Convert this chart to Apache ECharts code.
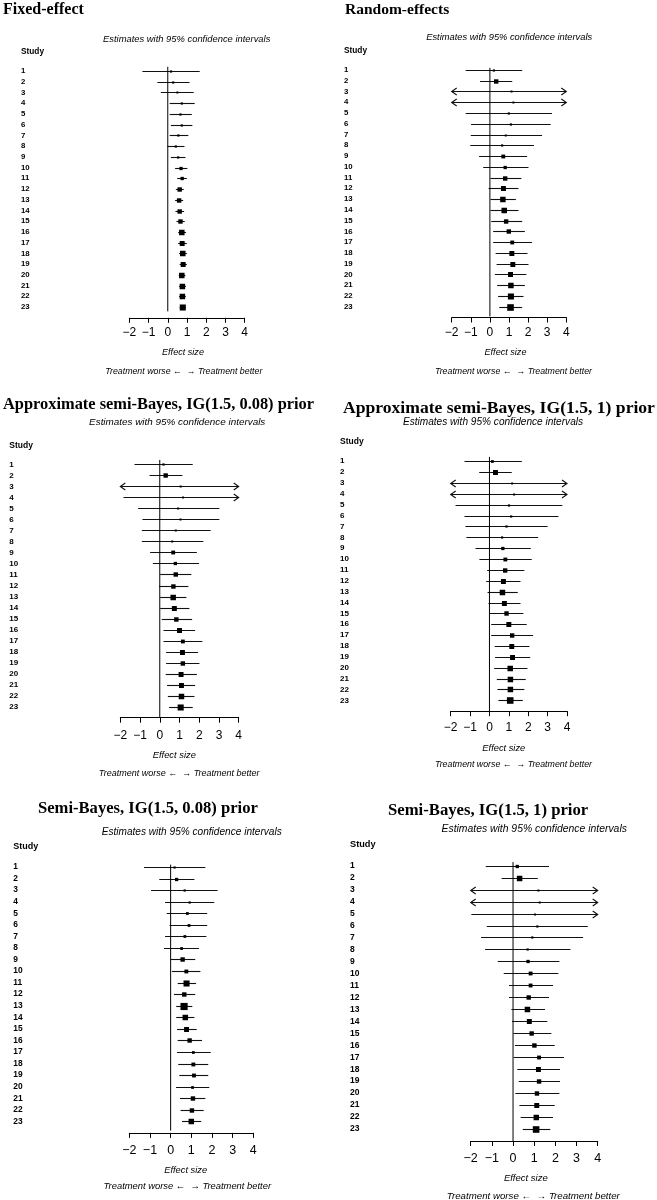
<!DOCTYPE html>
<html><head><meta charset="utf-8">
<script src="https://cdn.jsdelivr.net/npm/echarts@6/dist/echarts.min.js"></script>
<style>html,body{margin:0;padding:0;background:#fff}#c{width:657px;height:1200px}</style>
</head><body><div id="c"></div>
<script>
// ---------- data ----------
const studies = [1,2,3,4,5,6,7,8,9,10,11,12,13,14,15,16,17,18,19,20,21,22,23];
const xTicks = [-2,-1,0,1,2,3,4];
const OFF_LO = -2.5, OFF_HI = 4.5; // interval runs off the plotted scale (drawn as arrow)

const feEst = [0.17,0.28,0.50,0.73,0.66,0.73,0.55,0.42,0.54,0.69,0.75,0.62,0.59,0.62,0.66,0.73,0.75,0.78,0.80,0.73,0.76,0.76,0.78];
const feLo  = [-1.32,-0.54,-0.36,0.10,0.10,0.16,0.10,-0.02,0.16,0.38,0.49,0.42,0.38,0.40,0.45,0.54,0.54,0.59,0.62,0.57,0.59,0.59,0.62];
const feHi  = [1.66,1.13,1.35,1.40,1.25,1.28,1.07,0.87,0.92,1.02,0.99,0.83,0.80,0.85,0.88,0.95,0.99,0.99,0.99,0.92,0.94,0.94,0.94];
const feW   = [2,2,1.5,2,2,2,2,2,2,3,3,4,4,4,4,5,4.5,5,4.5,5,5,5,5.5];

const reEst = [0.21,0.33,1.13,1.23,0.99,1.10,0.83,0.64,0.70,0.80,0.80,0.71,0.68,0.75,0.85,0.99,1.17,1.15,1.20,1.08,1.10,1.10,1.08];
const reLo  = [-1.27,-0.52,OFF_LO,OFF_LO,-1.27,-0.99,-1.00,-1.03,-0.57,-0.35,0.03,-0.07,0.03,0.03,0.07,0.17,0.17,0.30,0.35,0.26,0.38,0.43,0.49];
const reHi  = [1.69,1.17,OFF_HI,OFF_HI,3.25,3.18,2.73,2.31,1.95,2.02,1.65,1.50,1.36,1.50,1.69,1.83,2.21,1.97,2.02,1.91,1.83,1.76,1.69];
const reW   = [2,4,1,1,2,2,1.5,2,3.5,3,4,4.5,5,5,4,4,3.5,4.5,4.5,4.5,5,5.5,6];

const asb008Est = [0.19,0.30,1.06,1.18,0.93,1.05,0.81,0.63,0.68,0.79,0.81,0.69,0.68,0.74,0.84,1.00,1.17,1.15,1.17,1.08,1.10,1.10,1.06];
const asb008Lo  = [-1.28,-0.52,OFF_LO,-1.84,-1.10,-0.88,-0.91,-0.91,-0.49,-0.35,0.02,-0.03,0.02,0.02,0.10,0.19,0.19,0.32,0.32,0.30,0.37,0.41,0.47];
const asb008Hi  = [1.67,1.15,OFF_HI,OFF_HI,3.02,3.02,2.58,2.21,1.88,1.99,1.60,1.45,1.35,1.50,1.64,1.79,2.16,1.94,2.01,1.88,1.79,1.76,1.67];
const asb008W   = [2,4,1,1,1.5,1.5,1.5,1.5,3.5,3,4,4,5,4.5,4,4.5,3.5,4.5,4,4.5,4.5,5,5.5];

const asb1Est = [0.15,0.31,1.17,1.27,1.01,1.12,0.88,0.65,0.69,0.82,0.81,0.72,0.67,0.77,0.88,1.00,1.17,1.15,1.19,1.07,1.08,1.08,1.07];
const asb1Lo  = [-1.29,-0.53,OFF_LO,OFF_LO,-1.75,-1.29,-1.24,-1.19,-0.72,-0.52,-0.12,-0.17,-0.10,-0.05,0.00,0.09,0.09,0.27,0.29,0.24,0.38,0.41,0.46];
const asb1Hi  = [1.67,1.15,OFF_HI,OFF_HI,3.76,3.56,3.00,2.51,2.13,2.18,1.80,1.60,1.46,1.60,1.75,1.92,2.25,2.06,2.10,1.96,1.87,1.80,1.72];
const asb1W   = [2.5,4.5,1,1,2,2,2,2,3,3.5,4,4.5,5,4.5,4,4.5,4,4.5,4.5,5,5,5,6];

const sb008Est = [0.19,0.29,0.68,0.92,0.81,0.89,0.69,0.53,0.58,0.76,0.77,0.66,0.65,0.71,0.77,0.92,1.10,1.10,1.13,1.06,1.08,1.03,1.00];
const sb008Lo  = [-1.29,-0.55,-0.95,-0.27,-0.19,-0.05,-0.27,-0.32,0.00,0.06,0.34,0.16,0.27,0.27,0.31,0.34,0.31,0.37,0.42,0.26,0.45,0.48,0.55];
const sb008Hi  = [1.68,1.15,2.27,2.11,1.77,1.77,1.73,1.37,1.19,1.44,1.23,1.19,1.05,1.15,1.26,1.52,1.94,1.82,1.82,1.87,1.68,1.60,1.48];
const sb008W   = [2,3,2,2,2.5,2.5,2.5,2.5,4,3.5,5.5,4,6.5,5,4.5,4,2.5,3.5,3.5,2.5,4,4,5];

const sb1Est = [0.20,0.31,1.20,1.26,1.04,1.15,0.91,0.69,0.71,0.83,0.83,0.74,0.68,0.77,0.88,1.01,1.23,1.20,1.23,1.13,1.12,1.10,1.09];
const sb1Lo  = [-1.29,-0.54,OFF_LO,OFF_LO,-1.97,-1.24,-1.51,-1.32,-0.72,-0.44,-0.19,-0.19,-0.08,-0.05,0.02,0.09,0.03,0.20,0.27,0.11,0.30,0.36,0.46];
const sb1Hi  = [1.70,1.17,OFF_HI,OFF_HI,OFF_HI,3.53,3.31,2.71,2.19,2.14,1.89,1.70,1.51,1.62,1.81,1.97,2.41,2.22,2.22,2.19,1.97,1.89,1.76];
const sb1W   = [3,5,1,1,1.5,2,2,2,3,3.5,3.5,4,5,4.5,4,4,3.5,4.5,4,4,4.5,5,6];

const panelTitles = ['Fixed-effect','Random-effects','Approximate semi-Bayes, IG(1.5, 0.08) prior','Approximate semi-Bayes, IG(1.5, 1) prior','Semi-Bayes, IG(1.5, 0.08) prior','Semi-Bayes, IG(1.5, 1) prior'];
const subTitle = 'Estimates with 95% confidence intervals';
const studyHead = 'Study';
const xName = 'Effect size';
const direction = 'Treatment worse \u2190  \u2192 Treatment better';

// ---------- layout ----------
const series = [[feEst,feLo,feHi,feW],[reEst,reLo,reHi,reW],[asb008Est,asb008Lo,asb008Hi,asb008W],[asb1Est,asb1Lo,asb1Hi,asb1W],[sb008Est,sb008Lo,sb008Hi,sb008W],[sb1Est,sb1Lo,sb1Hi,sb1W]];
const L = [
 {grid:[129.3,60.3,115.4,257.5], title:[3,9.5,16], sub:[186.7,39,9.4], study:[21,51.7,8.3], lab:[21,7.8], eff:[183,352.3,9.1], dir:[183.8,371.5,8.8], tm:9, zero:[0.6,23.4], tf:12},
 {grid:[451.7,59.2,114.6,258.3], title:[345,9.5,15.5], sub:[509.2,37.5,9.3], study:[344,51,8.3], lab:[344,7.8], eff:[505.5,352.3,9.1], dir:[513.5,371.5,8.8], tm:9, zero:[0.8,23.9], tf:12},
 {grid:[120.3,453.3,118.4,264.4], title:[3,404.5,16.4], sub:[177.2,422.3,9.9], study:[9.3,445.7,8.5], lab:[9.3,8], eff:[174.3,755,9.4], dir:[179.2,773.3,9.0], tm:12, zero:[0.6,24], tf:12},
 {grid:[450.7,450.4,116.3,260.8], title:[343,408.5,17.6], sub:[493,422.3,10.1], study:[340,441.7,8.5], lab:[340,8], eff:[503.8,748.3,9.3], dir:[513.5,765,8.8], tm:10, zero:[0.6,24], tf:12},
 {grid:[129.3,855.4,124,277.5], title:[38,808.5,16.6], sub:[191.7,832.3,10.1], study:[13.3,846.7,9], lab:[13.3,8.4], eff:[185.7,1170,9.3], dir:[187.3,1186.7,9.4], tm:11, zero:[0.8,23.8], tf:12.5},
 {grid:[470.7,853.7,127,287.3], title:[388,810.5,16.7], sub:[534.2,829.3,10.4], study:[350,844,9.2], lab:[350,8.5], eff:[525.8,1178.3,9.5], dir:[533.3,1196,9.7], tm:11, zero:[0.7,24], tf:12.5}
];
const SERIF = '"Liberation Serif","Times New Roman",serif';
const SANS = '"Liberation Sans",Arial,Helvetica,sans-serif';
const XMIN = xTicks[0], XMAX = xTicks[xTicks.length-1];

const grids=[], xAxes=[], yAxes=[], ser=[], graphics=[];
function txt(x,y,text,size,opts){
  graphics.push({type:'text', x:x, y:y, silent:true, style:Object.assign({text:text, fontSize:size, fontFamily:SANS, fill:'#000', textAlign:'center', textVerticalAlign:'middle', verticalAlign:'middle'}, opts||{})});
}
L.forEach((p,i)=>{
  grids.push({left:p.grid[0], top:p.grid[1], width:p.grid[2], height:p.grid[3], containLabel:false});
  xAxes.push({gridIndex:i, type:'value', min:XMIN, max:XMAX, interval:1,
    axisLine:{show:true, onZero:false, lineStyle:{color:'#000', width:1}},
    axisTick:{show:true, length:5, inside:false, lineStyle:{color:'#000'}},
    splitLine:{show:false},
    axisLabel:{color:'#000', fontSize:p.tf, fontFamily:SANS, margin:p.tm, formatter:v=>v<0?'\u2212'+Math.abs(v):String(v)}});
  yAxes.push({gridIndex:i, type:'value', inverse:true, min:0, max:24, interval:1,
    axisLine:{show:false}, axisTick:{show:false}, splitLine:{show:false},
    axisLabel:{color:'#000', fontSize:p.lab[1], fontWeight:'bold', fontFamily:SANS, align:'left', margin:p.grid[0]-p.lab[0],
      formatter:v=>(v>=1 && v<=studies.length)?String(studies[v-1]):''}});
  const [est,lo,hi,w] = series[i];
  ser.push({type:'line', xAxisIndex:i, yAxisIndex:i, data:[[0,p.zero[0]],[0,p.zero[1]]], symbol:'none', silent:true,
    lineStyle:{color:'#000', width:1}, animation:false});
  ser.push({type:'custom', xAxisIndex:i, yAxisIndex:i, clip:false, animation:false, silent:true,
    data: studies.map((s,j)=>[s, est[j], lo[j], hi[j], w[j]]),
    encode:{x:[1], y:0},
    renderItem:function(params, api){
      const row=api.value(0), e=api.value(1), l=api.value(2), h=api.value(3), ww=api.value(4);
      const a=api.coord([Math.max(l,XMIN),row]), b=api.coord([Math.min(h,XMAX),row]), c=api.coord([e,row]);
      const y=Math.round(a[1])+0.5;
      const col='#111';
      const ch=[{type:'line', shape:{x1:a[0],y1:y,x2:b[0],y2:y}, style:{stroke:col, lineWidth:1.1}}];
      if(l<XMIN) ch.push({type:'polyline', shape:{points:[[a[0]+5,y-3.5],[a[0],y],[a[0]+5,y+3.5]]}, style:{stroke:col, fill:null, lineWidth:1.1}});
      if(h>XMAX) ch.push({type:'polyline', shape:{points:[[b[0]-5,y-3.5],[b[0],y],[b[0]-5,y+3.5]]}, style:{stroke:col, fill:null, lineWidth:1.1}});
      const s=Math.max(2, ww*1.1);
      ch.push({type:'rect', shape:{x:c[0]-s/2, y:y-s/2, width:s, height:s}, style:{fill:'#000'}});
      return {type:'group', children:ch};
    }});
  txt(p.title[0], p.title[1], panelTitles[i], p.title[2], {fontFamily:SERIF, fontWeight:'bold', textAlign:'left'});
  txt(p.sub[0], p.sub[1], subTitle, p.sub[2], {fontStyle:'italic'});
  txt(p.study[0], p.study[1], studyHead, p.study[2], {fontWeight:'bold', textAlign:'left'});
  txt(p.eff[0], p.eff[1], xName, p.eff[2], {fontStyle:'italic'});
  txt(p.dir[0], p.dir[1], direction, p.dir[2], {fontStyle:'italic'});
});

const chart = echarts.init(document.getElementById('c'), null, {renderer:'canvas'});
chart.setOption({animation:false, backgroundColor:'#fff', grid:grids, xAxis:xAxes, yAxis:yAxes, series:ser, graphic:graphics});
</script></body></html>
